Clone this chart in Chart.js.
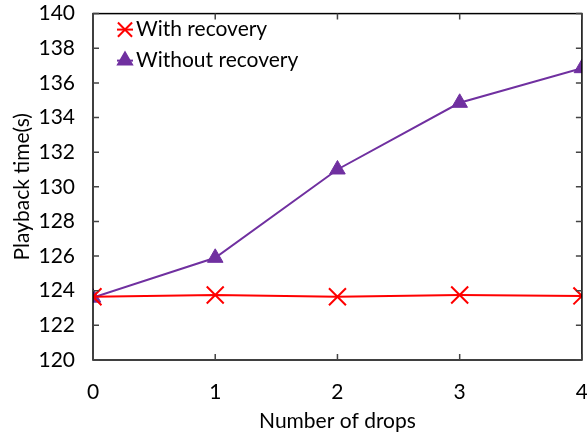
<!DOCTYPE html>
<html>
<head>
<meta charset="utf-8">
<script src="https://cdn.jsdelivr.net/npm/chart.js@4.4.1/dist/chart.umd.min.js"></script>
<style>
html, body { margin: 0; padding: 0; background: #fff; overflow: hidden; width: 587px; height: 435px; }
#c { display: block; margin-top: -9px; }
</style>
</head>
<body>
<canvas id="c" width="600" height="444"></canvas>
<script>
/* data */
const drops = [0, 1, 2, 3, 4];
const withRecovery = [123.65, 123.75, 123.65, 123.75, 123.7];
const withoutRecovery = [123.6, 125.9, 131.0, 134.85, 136.85];
const seriesNames = ["With recovery", "Without recovery"];

const FONT = "Lato, 'Open Sans', sans-serif";
const FS = 21;

/* frame + inward ticks + legend */
const frameTicks = {
  id: "frameTicks",
  afterDraw(chart) {
    const ctx = chart.ctx;
    const a = chart.chartArea;
    const x = chart.scales.x, y = chart.scales.y;
    ctx.save();
    ctx.strokeStyle = "#000";
    ctx.lineWidth = 1.5;
    ctx.strokeRect(a.left, a.top, a.right - a.left, a.bottom - a.top);
    ctx.strokeStyle = "#444";
    ctx.beginPath();
    y.ticks.forEach(t => {
      const py = y.getPixelForValue(t.value);
      ctx.moveTo(a.left, py); ctx.lineTo(a.left + 6, py);
      ctx.moveTo(a.right, py); ctx.lineTo(a.right - 6, py);
    });
    x.ticks.forEach(t => {
      const px = x.getPixelForValue(t.value);
      ctx.moveTo(px, a.bottom); ctx.lineTo(px, a.bottom - 6);
      ctx.moveTo(px, a.top); ctx.lineTo(px, a.top + 6);
    });
    ctx.stroke();

    chart.data.datasets.forEach((ds, i) => {
      const cy = a.top + 16 + i * 31;
      const cx = a.left + 32;
      ctx.strokeStyle = ds.borderColor;
      ctx.fillStyle = ds.backgroundColor;
      ctx.lineWidth = 2;
      ctx.beginPath();
      ctx.moveTo(cx - 8, cy); ctx.lineTo(cx + 8, cy);
      ctx.stroke();
      Chart.helpers.drawPoint(ctx, {
        pointStyle: ds.pointStyle, radius: i === 0 ? 10 : 8, rotation: 0, borderWidth: 2
      }, cx, cy);
      ctx.fillStyle = "#000";
      ctx.font = FS + "px " + FONT;
      ctx.textBaseline = "middle";
      ctx.textAlign = "left";
      ctx.fillText(ds.label, cx + 11, cy);
    });
    ctx.restore();
  }
};

new Chart(document.getElementById("c"), {
  type: "line",
  data: {
    datasets: [
      {
        label: seriesNames[0],
        data: drops.map((d, i) => ({ x: d, y: withRecovery[i] })),
        borderColor: "#ff0000",
        backgroundColor: "#ff0000",
        borderWidth: 2,
        pointStyle: "crossRot",
        pointRadius: 12,
        pointBorderWidth: 2,
        tension: 0
      },
      {
        label: seriesNames[1],
        data: drops.map((d, i) => ({ x: d, y: withoutRecovery[i] })),
        borderColor: "#7030a0",
        backgroundColor: "#7030a0",
        borderWidth: 2,
        pointStyle: "triangle",
        pointRadius: 9,
        pointBorderWidth: 1,
        tension: 0
      }
    ]
  },
  options: {
    responsive: false,
    animation: false,
    layout: { autoPadding: false, padding: { top: 14, right: 5, left: 0, bottom: 0 } },
    plugins: { legend: { display: false }, tooltip: { enabled: false } },
    scales: {
      x: {
        type: "linear",
        min: 0, max: 4,
        grid: { display: false },
        border: { display: false },
        afterFit(s) { s.height = 75; },
        ticks: { stepSize: 1, color: "#000", padding: 12, font: { family: FONT, size: FS } },
        title: { display: true, text: "Number of drops", color: "#000", padding: { top: 2, bottom: 1 }, font: { family: FONT, size: FS } }
      },
      y: {
        min: 120, max: 140,
        grid: { display: false },
        border: { display: false },
        afterFit(s) { s.width = 93; },
        ticks: { stepSize: 2, color: "#000", padding: 10, font: { family: FONT, size: FS } },
        title: { display: true, text: "Playback time(s)", color: "#000", padding: { top: 10, bottom: 4 }, font: { family: FONT, size: FS } }
      }
    }
  },
  plugins: [frameTicks]
});
</script>
</body>
</html>
